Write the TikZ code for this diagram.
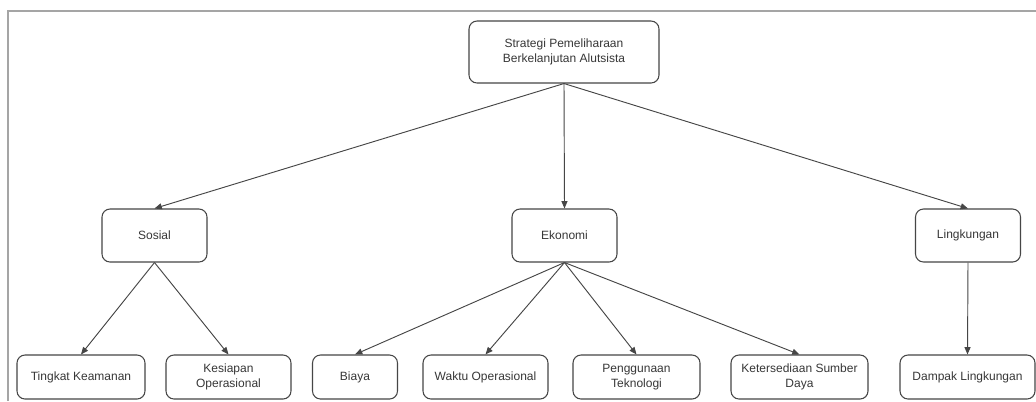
\documentclass[tikz,border=0pt]{standalone}
\usepackage{fontspec}
\setmainfont{Liberation Sans}
\usepackage{xcolor}
\usepackage{tikz}
\usetikzlibrary{arrows.meta, positioning}
\definecolor{framegray}{RGB}{165,165,165}
\definecolor{boxline}{RGB}{70,70,70}
\definecolor{textgray}{RGB}{55,55,55}

\begin{document}
\begin{tikzpicture}[x=0.75pt, y=-0.75pt,
  box/.style={draw=boxline, line width=0.8pt, rounded corners=6pt, fill=white,
    align=center, inner sep=0pt, text=textgray,
    font=\fontsize{9}{11.2}\selectfont},
  link/.style={draw=boxline, line width=0.7pt, -{Triangle[length=5.5pt, width=4.5pt]}}]
\useasboundingbox (0,0) rectangle (1036,401);
\fill[white] (0,0) rectangle (1036,401);
% frame
\draw[framegray, line width=1.6pt] (8,401) -- (8,11) -- (1036,11);

% top level
\node[box, minimum width=142.5pt, minimum height=46.5pt] (strategi) at (564,52)
  {Strategi Pemeliharaan\\Berkelanjutan Alutsista};

% aspects
\node[box, minimum width=78.75pt, minimum height=39.75pt] (sosial) at (154.5,235.5) {Sosial};
\node[box, minimum width=78.75pt, minimum height=39.75pt] (ekonomi) at (564.5,235.5) {Ekonomi};
\node[box, minimum width=78.75pt, minimum height=39.75pt] (lingkungan) at (968,235.5) {Lingkungan};

% indicators
\node[box, minimum width=96pt, minimum height=33pt] (keamanan) at (81,377) {Tingkat Keamanan};
\node[box, minimum width=93.75pt, minimum height=33pt] (kesiapan) at (228.5,377) {Kesiapan\\Operasional};
\node[box, minimum width=63.75pt, minimum height=33pt] (biaya) at (355,377) {Biaya};
\node[box, minimum width=93.75pt, minimum height=33pt] (waktu) at (485.5,377) {Waktu Operasional};
\node[box, minimum width=95.25pt, minimum height=33pt] (teknologi) at (636.5,377) {Penggunaan\\Teknologi};
\node[box, minimum width=102.75pt, minimum height=33pt] (sumberdaya) at (799.5,377) {Ketersediaan Sumber\\Daya};
\node[box, minimum width=101.25pt, minimum height=33pt] (dampak) at (967.5,377) {Dampak Lingkungan};

% connectors
\draw[link] (strategi.south) -- (sosial.north);
\draw[link] (strategi.south) -- (ekonomi.north);
\draw[link] (strategi.south) -- (lingkungan.north);
\draw[link] (sosial.south) -- (keamanan.north);
\draw[link] (sosial.south) -- (kesiapan.north);
\draw[link] (ekonomi.south) -- (biaya.north);
\draw[link] (ekonomi.south) -- (waktu.north);
\draw[link] (ekonomi.south) -- (teknologi.north);
\draw[link] (ekonomi.south) -- (sumberdaya.north);
\draw[link] (lingkungan.south) -- (dampak.north);
\end{tikzpicture}
\end{document}
